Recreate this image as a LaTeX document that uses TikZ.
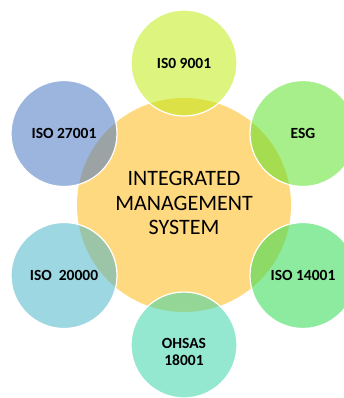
\documentclass[tikz,border=0pt]{standalone}
\usepackage{fontspec}
\setmainfont{Carlito}
\definecolor{hubYellow}{RGB}{255,217,127}
\definecolor{isoLime}{RGB}{193,235,22}
\definecolor{isoGreen}{RGB}{93,226,42}
\definecolor{isoMint}{RGB}{48,219,82}
\definecolor{isoAqua}{RGB}{59,213,168}
\definecolor{isoCyan}{RGB}{75,182,202}
\definecolor{isoBlue}{RGB}{75,120,195}
\begin{document}
\begin{tikzpicture}[x = 1pt, y = 1pt]
	\tikzstyle{hubStyle} = [shape = circle, minimum size = 214pt, inner sep = 0pt, fill = hubYellow]
	\tikzstyle{isoStyle} = [shape = circle, minimum size = 106pt, inner sep = 0pt, draw = white, line width = 1.2pt, fill opacity = 0.55, text opacity = 1, align = center, font = \fontsize{15.5}{17}\selectfont\bfseries]
	\useasboundingbox (0, 0) rectangle (344, 398);
	\node[style = hubStyle] (ims) at (184, 193) {};
	\node (imsText) at (184, 195) [align = center, font = \fontsize{22}{24.5}\selectfont] {INTEGRATED\\MANAGEMENT\\SYSTEM};
	\node[style = isoStyle, fill = isoLime] (iso9001) at (184, 335) {IS0 9001};
	\node[style = isoStyle, fill = isoGreen] (esg) at (303, 264.5) {ESG};
	\node[style = isoStyle, fill = isoMint] (iso14001) at (303, 122.5) {ISO 14001};
	\node[style = isoStyle, fill = isoAqua] (ohsas) at (184, 53) {};
	\node (ohsasText) at (184, 46) [align = center, font = \fontsize{15.5}{17}\selectfont\bfseries] {OHSAS\\18001};
	\node[style = isoStyle, fill = isoCyan] (iso20000) at (64, 122.5) {ISO~~20000};
	\node[style = isoStyle, fill = isoBlue] (iso27001) at (64, 264.5) {ISO 27001};
\end{tikzpicture}
\end{document}
